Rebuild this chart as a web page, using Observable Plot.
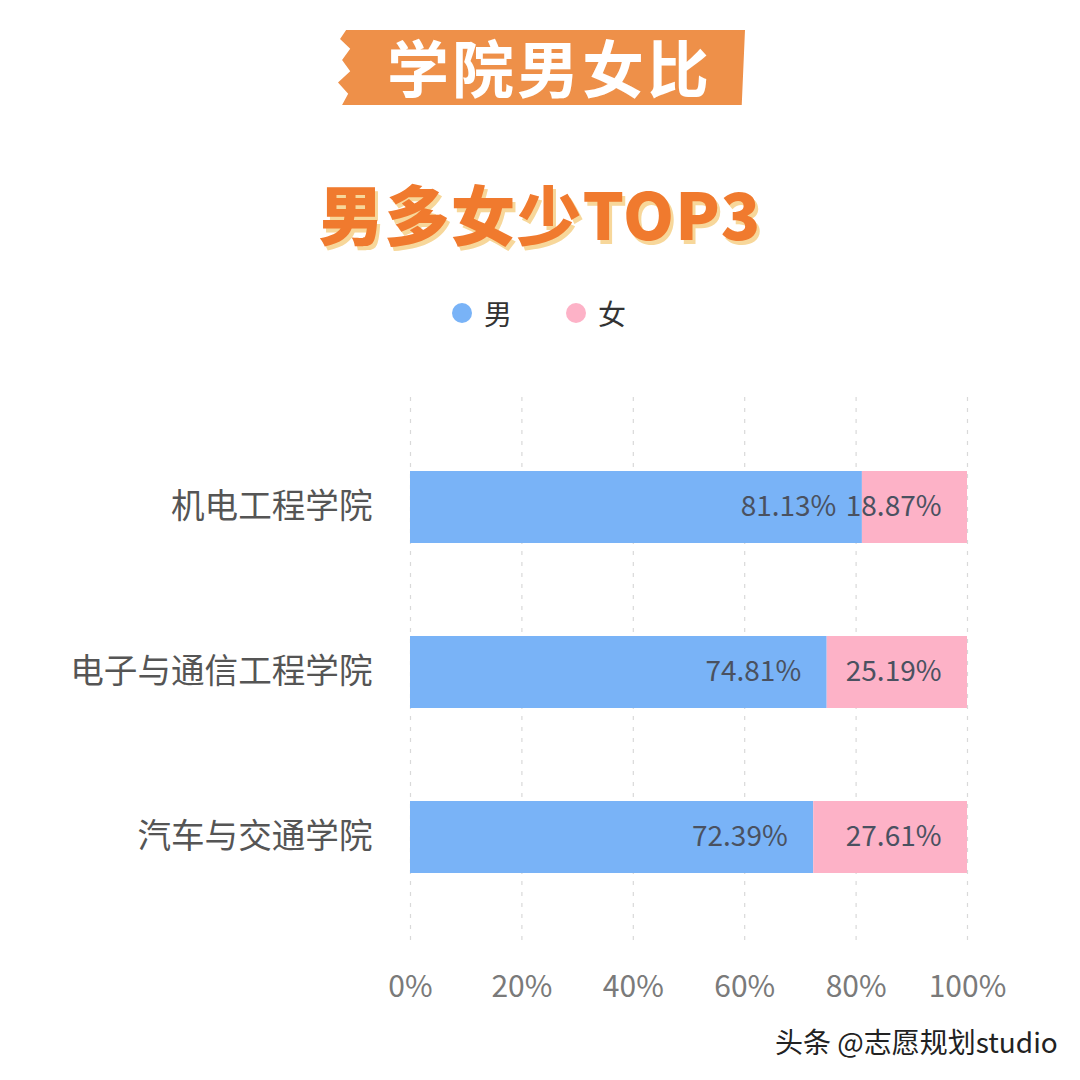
<!DOCTYPE html>
<html>
<head>
<meta charset="utf-8">
<script src="https://cdn.jsdelivr.net/npm/d3@7"></script>
<script src="https://cdn.jsdelivr.net/npm/@observablehq/plot@0.6"></script>
<style>
  html, body { margin: 0; padding: 0; background: #fff; }
  body { width: 1080px; height: 1080px; position: relative; overflow: hidden; font-family: "Noto Sans CJK SC", "Noto Sans", sans-serif; }
  #banner { position: absolute; left: 338px; top: 30px; width: 407px; height: 75px; background: #EE9049;
    clip-path: polygon(2% 0%, 100% 0%, 99.2% 100%, 1% 100%, 2.5% 85%, 0% 70%, 3% 55%, 1% 40%, 3% 25%, 0.5% 12%); }
  #banner span { position: absolute; left: 49px; top: -1px; line-height: 75px; font-size: 62px; font-weight: 700; color: #fff; letter-spacing: 3px; }
  #sub { position: absolute; left: 0; width: 1080px; top: 165px; text-align: center; font-size: 65px; font-weight: 900; color: #F07A2E;
    text-shadow: 3px 4px 0 #F7D79A; letter-spacing: 1px; }
  #legend { position: absolute; top: 293px; left: 0; width: 1080px; height: 40px; font-size: 28px; color: #333; }
  .dot { position: absolute; top: 10px; width: 20px; height: 20px; border-radius: 50%; }
  .lab { position: absolute; top: 0; line-height: 40px; }
  #chart { position: absolute; left: 0; top: 380px; }
  #wm { position: absolute; left: 775px; top: 1021px; font-size: 28px; color: #222; text-shadow: 0 0 2px #fff; }
</style>
</head>
<body>
<div id="banner"><span>学院男女比</span></div>
<div id="sub">男多女少TOP3</div>
<div id="legend"></div>
<div id="chart"></div>
<div id="wm">头条 @志愿规划studio</div>
<script>
const colleges = ["机电工程学院", "电子与通信工程学院", "汽车与交通学院"];
const male = [81.13, 74.81, 72.39];
const female = [18.87, 25.19, 27.61];
const genders = ["男", "女"];
const colors = ["#79B3F7", "#FDB2C7"];
const ticks = [0, 20, 40, 60, 80, 100];

const data = [];
colleges.forEach((c, i) => {
  data.push({college: c, gender: genders[0], value: male[i]});
  data.push({college: c, gender: genders[1], value: female[i]});
});

// legend
const legend = document.getElementById("legend");
const legendX = [[452, 484], [566, 598]];
genders.forEach((g, i) => {
  const d = document.createElement("div");
  d.className = "dot"; d.style.left = legendX[i][0] + "px"; d.style.background = colors[i];
  legend.appendChild(d);
  const t = document.createElement("div");
  t.className = "lab"; t.style.left = legendX[i][1] + "px"; t.textContent = g;
  legend.appendChild(t);
});

const chart = Plot.plot({
  width: 1080,
  height: 640,
  marginLeft: 410,
  marginRight: 113,
  marginTop: 17,
  marginBottom: 73,
  style: {fontFamily: "'Noto Sans CJK SC', sans-serif", background: "transparent"},
  x: {domain: [0, 100], ticks: ticks, tickFormat: d => d + "%"},
  y: {domain: colleges, paddingInner: 0.566, paddingOuter: 0.44},
  color: {domain: genders, range: colors},
  marks: [
    Plot.ruleX(ticks, {stroke: "#d9d9d9", strokeWidth: 1.2, strokeDasharray: "4,7"}),
    Plot.barX(data, Plot.stackX({x: "value", y: "college", fill: "gender", order: genders})),
    Plot.text(data, Plot.stackX2({x: "value", y: "college", z: "gender", order: genders,
      text: d => d.value.toFixed(2) + "%", textAnchor: "end", dx: -26, fill: "#4a5160", fontSize: 28})),
    Plot.axisX({ticks: ticks, tickFormat: d => d + "%", tickSize: 0, tickPadding: 28, fontSize: 30, color: "#7a7a7a", label: null}),
    Plot.axisY({tickSize: 0, tickPadding: 38, fontSize: 33.6, color: "#555", label: null})
  ]
});
document.getElementById("chart").appendChild(chart);
</script>
</body>
</html>
